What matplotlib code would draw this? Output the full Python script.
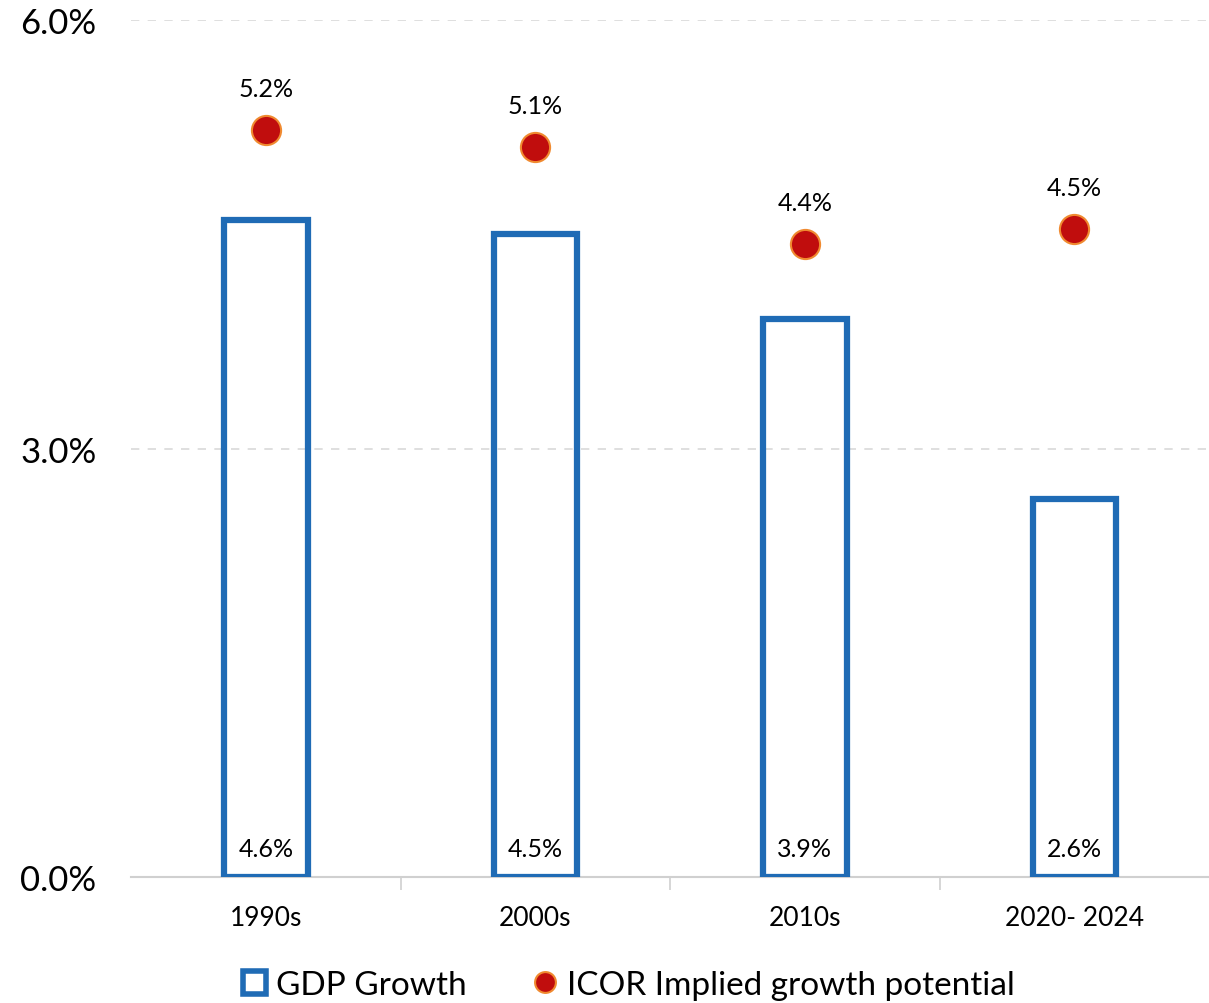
import matplotlib
matplotlib.use("Agg")
import matplotlib.pyplot as plt
from matplotlib.lines import Line2D
from matplotlib.patches import Patch

# 数据
categories = ["1990s", "2000s", "2010s", "2020- 2024"]
gdp_growth = [4.60, 4.50, 3.91, 2.65]
icor_potential = [5.23, 5.11, 4.43, 4.54]
gdp_labels = ["4.6%", "4.5%", "3.9%", "2.6%"]
icor_labels = ["5.2%", "5.1%", "4.4%", "4.5%"]
ytick_vals = [0.0, 3.0, 6.0]

plt.rcParams['font.family'] = ['Lato', 'DejaVu Sans']

blue = "#1F6BB5"
red = "#C00D0D"
orange = "#F08A30"

fig = plt.figure(figsize=(12.09, 10.04), dpi=100)
ax = fig.add_axes([0.1086, 0.1255, 0.8914, 0.8535])

x = list(range(len(categories)))
ax.bar(x, gdp_growth, width=0.31, facecolor="none", edgecolor=blue, linewidth=4.5, zorder=3)
ax.plot(x, icor_potential, linestyle="none", marker="o", markersize=21,
        markerfacecolor=red, markeredgecolor=orange, markeredgewidth=1.5, zorder=4)

# 数据标签
for i in x:
    ax.text(i, 0.2, gdp_labels[i], ha="center", va="center", fontsize=18, zorder=5)
    ax.text(i, icor_potential[i] + 0.29, icor_labels[i], ha="center", va="center", fontsize=18)

ax.set_xlim(-0.5, len(categories) - 0.5)
ax.set_ylim(0, 6.0)
ax.set_yticks(ytick_vals)
ax.set_yticklabels(["%.1f%%" % v for v in ytick_vals], fontsize=25)
ax.set_xticks(x)
ax.set_xticklabels(categories, fontsize=19)
ax.tick_params(axis="x", length=0, pad=20)
ax.tick_params(axis="y", length=0, pad=25)
ax.set_xticks([0.5, 1.5, 2.5], minor=True)
ax.tick_params(axis="x", which="minor", length=9, color="#D0D0D0", width=1.2)

ax.yaxis.grid(True, linestyle=(0, (5, 5)), color="#D9D9D9", linewidth=1.2, zorder=0)
ax.set_axisbelow(True)
for side in ["top", "right", "left"]:
    ax.spines[side].set_visible(False)
ax.spines["bottom"].set_color("#D0D0D0")
ax.spines["bottom"].set_linewidth(1.5)
ax.spines["bottom"].set_zorder(2)

handles = [
    Patch(facecolor="none", edgecolor=blue, linewidth=4),
    Line2D([], [], linestyle="none", marker="o", markersize=15,
           markerfacecolor=red, markeredgecolor=orange, markeredgewidth=1.5),
]
fig.legend(handles, ["GDP Growth", "ICOR Implied growth potential"], loc="lower center",
           bbox_to_anchor=(0.52, -0.027), ncol=2, frameon=False, fontsize=24,
           handlelength=0.7, handleheight=0.7, handletextpad=0.3, columnspacing=2.0)

fig.savefig("out.png", dpi=100)
